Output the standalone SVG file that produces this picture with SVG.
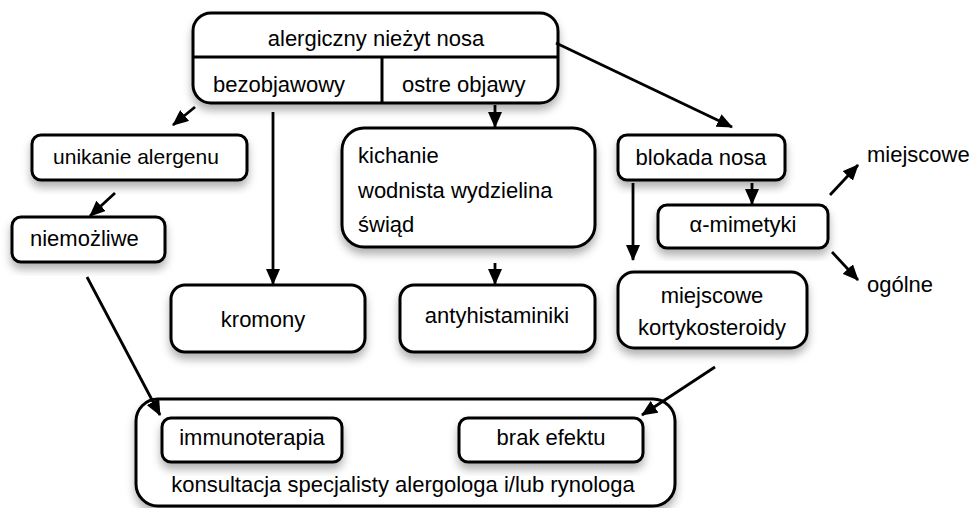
<svg xmlns="http://www.w3.org/2000/svg" width="972" height="508" viewBox="0 0 972 508">
<defs>
<filter id="sh" x="-10%" y="-20%" width="120%" height="150%">
<feDropShadow dx="0" dy="6" stdDeviation="4" flood-color="#000" flood-opacity="0.3"/>
</filter>
<marker id="ah" viewBox="0 0 16 14" refX="15" refY="7" markerWidth="16" markerHeight="14" markerUnits="userSpaceOnUse" orient="auto">
<path d="M0,0 L16,7 L0,14 Z" fill="#000"/>
</marker>
</defs>
<style>
.box{fill:#fff;stroke:#000;stroke-width:3;filter:url(#sh)}
.plain{fill:none;stroke:#000;stroke-width:3}
text{font-family:"Liberation Sans",Arial,sans-serif;font-size:22px;fill:#000}
.c{text-anchor:middle}
.e{fill:none;stroke:#000;stroke-width:2.8;marker-end:url(#ah)}
</style>
<rect width="972" height="508" fill="#fff"/>

<g id="konsultacja">
<rect x="136" y="399" width="539" height="107" rx="22" class="box"/>
<text x="403" y="492" class="c">konsultacja specjalisty alergologa i/lub rynologa</text>
</g>
<g id="immunoterapia">
<rect x="162" y="418" width="180" height="44" rx="9" class="box"/>
<text x="252" y="445" class="c">immunoterapia</text>
</g>
<g id="brak-efektu">
<rect x="459" y="418" width="184" height="44" rx="9" class="box"/>
<text x="551" y="445" class="c">brak efektu</text>
</g>

<g id="alergiczny">
<rect x="193" y="13" width="365" height="90" rx="18" class="box"/>
<line x1="193" y1="57" x2="558" y2="57" class="plain"/>
<line x1="382" y1="57" x2="382" y2="103" class="plain"/>
<text x="376" y="46" class="c">alergiczny nieżyt nosa</text>
<text x="213" y="92">bezobjawowy</text>
<text x="402" y="92">ostre objawy</text>
</g>

<g id="unikanie">
<rect x="32" y="135" width="215" height="45" rx="9" class="box"/>
<text x="136" y="164" class="c" style="font-size:21px">unikanie alergenu</text>
</g>
<g id="niemozliwe">
<rect x="12" y="217" width="153" height="45" rx="9" class="box"/>
<text x="30" y="246">niemożliwe</text>
</g>
<g id="kromony">
<rect x="171" y="285" width="194" height="67" rx="14" class="box"/>
<text x="263" y="327" class="c">kromony</text>
</g>
<g id="objawy">
<rect x="342" y="128" width="253" height="119" rx="22" class="box"/>
<text x="358" y="163">kichanie</text>
<text x="358" y="198">wodnista wydzielina</text>
<text x="358" y="232">świąd</text>
</g>
<g id="antyhistaminiki">
<rect x="400" y="285" width="195" height="67" rx="14" class="box"/>
<text x="497" y="323" class="c">antyhistaminiki</text>
</g>
<g id="blokada">
<rect x="618" y="135" width="167" height="45" rx="9" class="box"/>
<text x="701" y="165" class="c">blokada nosa</text>
</g>
<g id="alfa">
<rect x="658" y="205" width="170" height="43" rx="9" class="box"/>
<text x="743" y="232" class="c">α-mimetyki</text>
</g>
<g id="kortykosteroidy">
<rect x="618" y="272" width="189" height="76" rx="16" class="box"/>
<text x="712" y="303" class="c">miejscowe</text>
<text x="712" y="335" class="c">kortykosteroidy</text>
</g>
<g id="miejscowe">
<text x="867" y="162">miejscowe</text>
</g>
<g id="ogolne">
<text x="867" y="292">ogólne</text>
</g>

<g id="connectors">
<line x1="195" y1="107" x2="173" y2="125" class="e"/>
<line x1="115" y1="193" x2="90" y2="216" class="e"/>
<line x1="273" y1="112" x2="273" y2="284" class="e"/>
<line x1="495" y1="105" x2="495" y2="127" class="e"/>
<line x1="495" y1="263" x2="495" y2="284" class="e"/>
<line x1="556" y1="43" x2="732" y2="127" class="e"/>
<line x1="752" y1="183" x2="752" y2="204" class="e"/>
<line x1="633" y1="183" x2="633" y2="260" class="e"/>
<line x1="830" y1="195" x2="858" y2="165" class="e"/>
<line x1="832" y1="252" x2="858" y2="280" class="e"/>
<line x1="87" y1="277" x2="160" y2="415" class="e"/>
<line x1="715" y1="367" x2="642" y2="415" class="e"/>
</g>
</svg>
